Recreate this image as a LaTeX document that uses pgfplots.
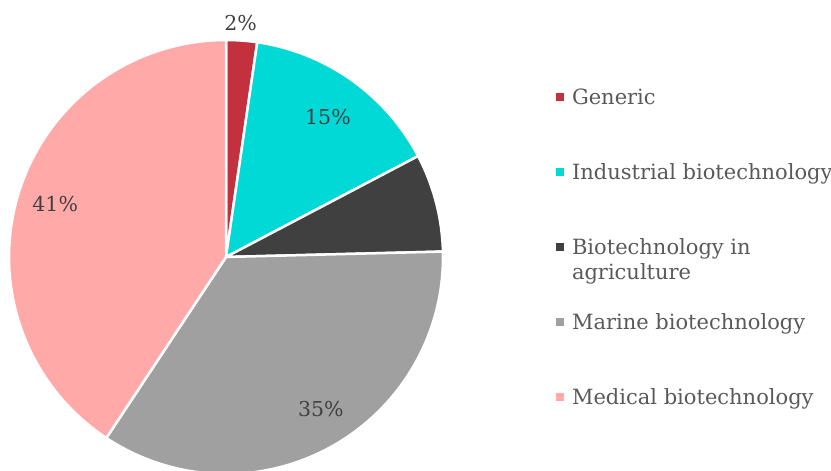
\documentclass[border=0pt]{standalone}
\usepackage{pgfplots}
\pgfplotsset{compat=1.18}
\usepackage{pgfplotstable}
\usepackage{fontspec}
\setmainfont{DejaVu Serif}
\definecolor{cGen}{RGB}{195,49,63}
\definecolor{cInd}{RGB}{0,217,214}
\definecolor{cAgr}{RGB}{64,64,64}
\definecolor{cMar}{RGB}{160,160,160}
\definecolor{cMed}{RGB}{255,169,169}
\definecolor{tLab}{RGB}{64,64,64}
\definecolor{tLeg}{RGB}{89,89,89}
\pgfplotstableread{
label value
Generic 2.3
Industrial 15.0
Agriculture 7.3
Marine 34.7
Medical 40.7
}\piedata
\begin{document}
\begin{tikzpicture}
\pgfplotstablegetelem{0}{value}\of\piedata \pgfmathsetmacro\aA{90-3.6*\pgfplotsretval}
\pgfplotstablegetelem{1}{value}\of\piedata \pgfmathsetmacro\aB{\aA-3.6*\pgfplotsretval}
\pgfplotstablegetelem{2}{value}\of\piedata \pgfmathsetmacro\aC{\aB-3.6*\pgfplotsretval}
\pgfplotstablegetelem{3}{value}\of\piedata \pgfmathsetmacro\aD{\aC-3.6*\pgfplotsretval}
\pgfplotstablegetelem{4}{value}\of\piedata \pgfmathsetmacro\aE{\aD-3.6*\pgfplotsretval}
\begin{axis}[
  at={(9bp,-3bp)}, anchor=south west,
  scale only axis, width=434bp, height=434bp,
  xmin=-1, xmax=1, ymin=-1, ymax=1,
  hide axis, clip=false,
  every axis plot/.append style={draw=white, line width=2.5bp, samples=90, variable=\t},
  legend image code/.code={\fill[#1, draw=none] (0bp,4.3bp) rectangle (7.5bp,11.7bp);},
  legend style={
    at={(axis description cs:1.2604,0.8779)}, anchor=north west,
    draw=none, fill=none, inner sep=0pt, outer sep=0pt,
    /tikz/row sep=63bp, /tikz/column sep=8.5bp,
    nodes={inner sep=0pt, outer sep=0pt, text height=12bp, text depth=0pt,
           font=\fontsize{21bp}{25bp}\selectfont, text=tLeg},
    cells={anchor=base west},
  },
]
\addplot[fill=cGen, domain=\aA:90] ({cos(t)},{sin(t)}) -- (axis cs:0,0) -- cycle;
\addlegendentry{Generic}
\addplot[fill=cInd, domain=\aB:\aA] ({cos(t)},{sin(t)}) -- (axis cs:0,0) -- cycle;
\addlegendentry{Industrial biotechnology}
\addplot[fill=cAgr, domain=\aC:\aB] ({cos(t)},{sin(t)}) -- (axis cs:0,0) -- cycle;
\addlegendentry{\begin{tabular}[t]{@{}l@{}}Biotechnology in\\agriculture\end{tabular}}
\addplot[fill=cMar, domain=\aD:\aC] ({cos(t)},{sin(t)}) -- (axis cs:0,0) -- cycle;
\addlegendentry{Marine biotechnology}
\addplot[fill=cMed, domain=\aE:\aD] ({cos(t)},{sin(t)}) -- (axis cs:0,0) -- cycle;
\addlegendentry{Medical biotechnology}
\begin{scope}[every node/.style={anchor=base, font=\fontsize{20.5bp}{24bp}\selectfont, text=tLab}]
\node at (axis cs:0.067,1.042) {2\%};
\node at (axis cs:0.470,0.611) {15\%};
\node at (axis cs:-0.787,0.208) {41\%};
\node at (axis cs:0.4375,-0.736) {35\%};
\end{scope}
\end{axis}
\pgfresetboundingbox
\useasboundingbox (0,0) rectangle (831bp,471bp);
\end{tikzpicture}
\end{document}
